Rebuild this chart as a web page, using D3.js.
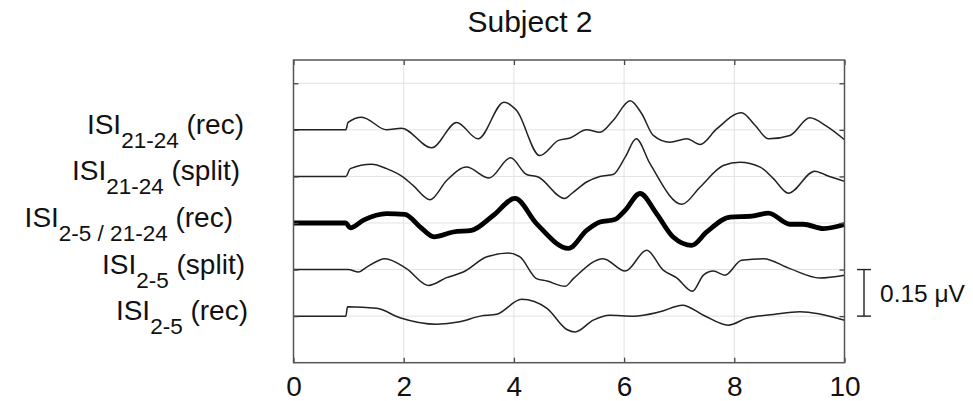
<!DOCTYPE html>
<html>
<head>
<meta charset="utf-8">
<script src="https://cdn.jsdelivr.net/npm/d3@7"></script>
<style>
  body { margin: 0; background: #fff; }
  svg { display: block; font-family: "Liberation Sans", Arial, sans-serif; }
</style>
</head>
<body>
<svg id="chart" width="973" height="401"></svg>
<script>

// time (s) and amplitude (uV) of each trace
var t_rec2124 = [0, 0.95, 0.99, 1.24, 1.69, 1.96, 2.51, 2.96, 3.35, 3.82, 4.05, 4.47, 4.81, 5.02, 5.32, 5.56, 5.80, 6.11, 6.32, 6.53, 6.83, 7.14, 7.38, 7.68, 8.13, 8.38, 8.62, 9.01, 9.37, 9.68, 10];
var v_rec2124 = [0, 0, 0.024, 0.041, 0, 0.005, -0.058, 0.024, -0.029, 0.089, 0.062, -0.083, -0.034, -0.026, 0, -0.008, 0.030, 0.094, 0.052, -0.018, -0.040, -0.029, -0.047, 0.003, 0.055, 0.014, -0.029, -0.018, 0.039, 0.011, -0.032];

var t_split2124 = [0, 0.95, 1.03, 1.42, 1.69, 1.99, 2.17, 2.48, 2.78, 3.14, 3.55, 3.94, 4.23, 4.44, 4.92, 5.05, 5.32, 5.56, 5.80, 6.02, 6.22, 6.47, 7.05, 7.38, 7.80, 8.10, 8.47, 8.71, 8.98, 9.46, 9.68, 10];
var v_split2124 = [0, 0, 0.025, 0.039, 0.025, -0.002, -0.029, -0.075, -0.013, 0.030, -0.005, 0.060, 0.006, -0.002, -0.071, -0.055, -0.018, 0, 0.006, 0.062, 0.121, 0.041, -0.090, -0.034, 0.035, 0.046, 0.030, -0.007, -0.054, 0.017, 0.003, -0.016];

var t_rec25_2124 = [0, 0.95, 1.03, 1.27, 1.69, 2.02, 2.30, 2.55, 2.90, 3.23, 3.63, 4.02, 4.41, 4.99, 5.32, 5.56, 5.83, 6.02, 6.29, 6.59, 6.89, 7.23, 7.50, 7.92, 8.32, 8.62, 9.01, 9.25, 9.62, 10];
var v_rec25_2124 = [0, 0, -0.016, 0.009, 0.030, 0.028, -0.013, -0.045, -0.029, -0.024, 0.025, 0.079, -0.002, -0.082, -0.024, 0.003, 0.011, 0.041, 0.095, 0.030, -0.045, -0.072, -0.029, 0.019, 0.022, 0.032, -0.004, -0.004, -0.018, -0.005];

var t_split25 = [0, 0.99, 1.18, 1.33, 1.66, 2.05, 2.45, 2.78, 3.08, 3.51, 3.90, 4.11, 4.41, 4.60, 4.93, 5.08, 5.62, 6.02, 6.41, 6.71, 6.95, 7.24, 7.44, 7.62, 7.83, 8.13, 8.53, 9.01, 9.55, 10];
var v_split25 = [0, 0, -0.008, 0.008, 0.035, 0.003, -0.051, -0.026, -0.008, 0.041, 0.053, 0.041, -0.029, -0.037, -0.054, -0.029, 0.035, -0.005, 0.062, -0.002, -0.026, -0.070, -0.018, -0.005, -0.018, 0.030, 0.035, 0.003, -0.027, -0.018];

var t_rec25 = [0, 0.95, 0.98, 1.51, 1.93, 2.60, 3.02, 3.39, 3.69, 4.14, 4.60, 4.96, 5.11, 5.44, 5.74, 6.17, 6.65, 7.06, 7.44, 7.89, 8.22, 8.71, 9.19, 10];
var v_rec25 = [0, 0, 0.030, 0.025, -0.005, -0.026, -0.018, 0, 0.006, 0.054, 0.025, -0.043, -0.051, -0.013, 0.003, 0, 0.014, 0.035, 0.003, -0.029, -0.007, 0.005, 0.014, -0.013];

var labelSub = ["21-24", "21-24", "2-5 / 21-24", "2-5", "2-5"];
var labelTail = ["(rec)", "(split)", "(rec)", "(split)", "(rec)"];
var xTicks = [0, 2, 4, 6, 8, 10];
var yTicks = [1, 2, 3, 4, 5, 6];
var scaleBarValue = 0.15;   // uV per trace spacing
var scaleBarText = "0.15 \u03bcV";
var titleText = "Subject 2";

var traces = [
  {t: t_rec2124, v: v_rec2124, thick: false},
  {t: t_split2124, v: v_split2124, thick: false},
  {t: t_rec25_2124, v: v_rec25_2124, thick: true},
  {t: t_split25, v: v_split25, thick: false},
  {t: t_rec25, v: v_rec25, thick: false}
];

// right edge of each label (layout only)
var labelRight = [244, 240, 233, 245, 248];

var svg = d3.select("#chart");

var plotL = 293.5, plotR = 844.5, plotT = 60, plotB = 362.7;

var x = d3.scaleLinear().domain([0, 10]).range([plotL, plotR]);
var y = d3.scaleLinear().domain([0, 6.5]).range([plotB, plotT]);

// grid
var grid = svg.append("g").attr("stroke", "#e2e2e2").attr("stroke-width", 1);
grid.selectAll(".gx").data(xTicks.slice(1, -1)).enter().append("line")
  .attr("x1", d => x(d)).attr("x2", d => x(d))
  .attr("y1", plotT).attr("y2", plotB);
grid.selectAll(".gy").data(yTicks).enter().append("line")
  .attr("x1", plotL).attr("x2", plotR)
  .attr("y1", d => y(d)).attr("y2", d => y(d));

// traces, stacked with one grid step per trace (step = scaleBarValue uV)
var line = d3.line()
  .x(d => x(d[0]))
  .y(d => y(d[1]))
  .curve(d3.curveMonotoneX);

traces.forEach(function(tr, i) {
  var offset = 5 - i;
  var pts = tr.t.map((tt, k) => [tt, offset + tr.v[k] / scaleBarValue]);
  svg.append("path")
    .datum(pts)
    .attr("d", line)
    .attr("fill", "none")
    .attr("stroke", tr.thick ? "#000" : "#222")
    .attr("stroke-width", tr.thick ? 4.8 : 1.5)
    .attr("stroke-linejoin", "round");
});

// axes, MATLAB style ticks pointing in
var axFont = 28;
var xb = svg.append("g").attr("transform", "translate(0," + plotB + ")")
  .call(d3.axisBottom(x).tickValues(xTicks).tickSize(-5).tickPadding(13));
xb.selectAll("text").attr("font-size", axFont).attr("fill", "#111");
xb.attr("font-family", null).attr("font-size", null);
svg.append("g").attr("transform", "translate(0," + plotT + ")")
  .call(d3.axisTop(x).tickValues(xTicks).tickSize(-5).tickFormat(""));
svg.append("g").attr("transform", "translate(" + plotL + ",0)")
  .call(d3.axisLeft(y).tickValues(yTicks).tickSize(-5).tickFormat(""));
svg.append("g").attr("transform", "translate(" + plotR + ",0)")
  .call(d3.axisRight(y).tickValues(yTicks).tickSize(-5).tickFormat(""));
svg.selectAll(".domain").remove();
svg.selectAll(".tick line").attr("stroke", "#444").attr("stroke-width", 1.3);

svg.append("rect")
  .attr("x", plotL).attr("y", plotT)
  .attr("width", plotR - plotL).attr("height", plotB - plotT)
  .attr("fill", "none").attr("stroke", "#555").attr("stroke-width", 1.5);

// title
svg.append("text")
  .attr("x", 530).attr("y", 32)
  .attr("text-anchor", "middle")
  .attr("font-size", 30).attr("fill", "#111")
  .text(titleText);

// trace labels
labelSub.forEach(function(sub, i) {
  var ty = y(5 - i) + 4;
  var txt = svg.append("text")
    .attr("x", labelRight[i]).attr("y", ty)
    .attr("text-anchor", "end")
    .attr("font-size", 28).attr("fill", "#111");
  txt.append("tspan").text("ISI");
  txt.append("tspan").attr("dy", 14).attr("font-size", 22.5).text(sub);
  txt.append("tspan").attr("dy", -14).text(" " + labelTail[i]);
});

// scale bar
var sbx = 864, sb0 = y(1), sb1 = y(2);
var sb = svg.append("g").attr("stroke", "#222").attr("stroke-width", 1.4);
sb.append("line").attr("x1", sbx).attr("x2", sbx).attr("y1", sb0).attr("y2", sb1);
sb.append("line").attr("x1", sbx - 7).attr("x2", sbx + 7).attr("y1", sb0).attr("y2", sb0);
sb.append("line").attr("x1", sbx - 7).attr("x2", sbx + 7).attr("y1", sb1).attr("y2", sb1);
svg.append("text")
  .attr("x", 880).attr("y", (sb0 + sb1) / 2 + 9)
  .attr("font-size", 24.5).attr("fill", "#111")
  .text(scaleBarText);

</script>
</body>
</html>
